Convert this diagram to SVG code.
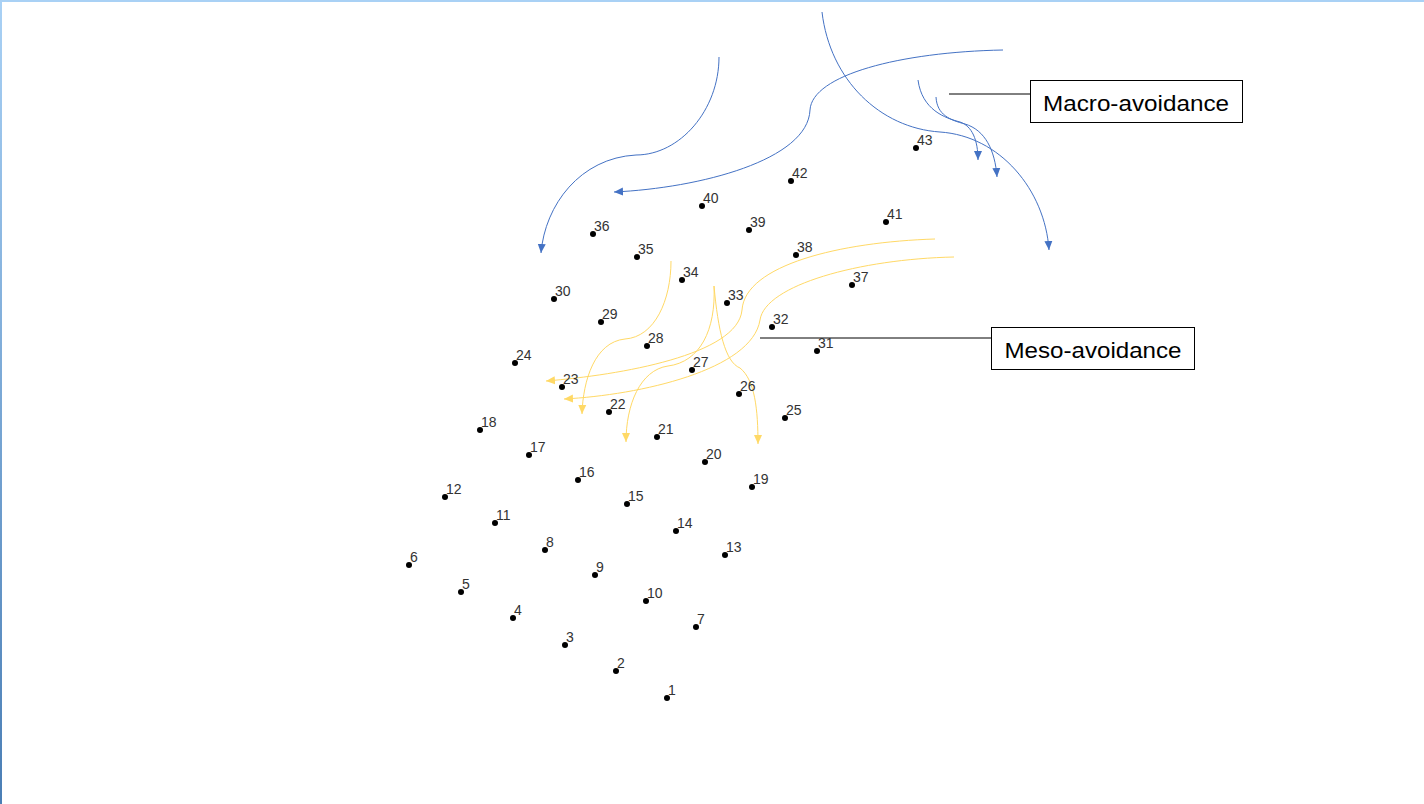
<svg xmlns="http://www.w3.org/2000/svg" width="1424" height="804" viewBox="0 0 1424 804">
<defs>
<linearGradient id="lb" x1="0" y1="0" x2="0" y2="1"><stop offset="0" stop-color="#A9D1F5"/><stop offset="1" stop-color="#4A7EB5"/></linearGradient>
<marker id="ab" markerWidth="10" markerHeight="10" viewBox="0 0 10 10" refX="9" refY="5" orient="auto" markerUnits="userSpaceOnUse"><path d="M0,1 L9,5 L0,9 Z" fill="#4472C4"/></marker>
<marker id="ay" markerWidth="10" markerHeight="10" viewBox="0 0 10 10" refX="9" refY="5" orient="auto" markerUnits="userSpaceOnUse"><path d="M0,1 L9,5 L0,9 Z" fill="#FFD966"/></marker>
<style>
.d{fill:#000}
.l{font-family:"Liberation Sans",Arial,sans-serif;font-size:14px;fill:#333}
.b{fill:none;stroke:#4472C4;stroke-width:1;marker-end:url(#ab)}
.y{fill:none;stroke:#FFD966;stroke-width:1;marker-end:url(#ay)}
.box{fill:#fff;stroke:#000;stroke-width:1}
.bt{font-family:"Liberation Sans",Arial,sans-serif;font-size:22px;fill:#000}
.ln{stroke:#000;stroke-width:1}
</style>
</defs>
<rect width="1424" height="804" fill="#fff"/>
<rect x="0" y="0" width="1424" height="2" fill="#A9D1F5"/>
<rect x="0" y="0" width="2" height="804" fill="url(#lb)"/>
<g id="connectors">
<path class="b" d="M719,57 C719,110 680,155 636,155 C580,158 545,205 541,253"/>
<path class="b" d="M1003,50 C900,52 812,75 810,110 C808,160 700,188 614,192"/>
<path class="b" d="M822,12 C830,80 880,128 940,132 C1000,136 1045,190 1049,250"/>
<path class="b" d="M918,80 C922,110 945,118 960,122 C972,126 978,140 978,160"/>
<path class="b" d="M936,97 C937,115 950,120 965,124 C985,130 995,150 997,177"/>
<path class="y" d="M671,261 C671,300 655,337 625,339 C595,342 583,380 582,414"/>
<path class="y" d="M714,286 C716,330 700,362 668,366 C640,370 626,405 626,442"/>
<path class="y" d="M714,286 C718,330 725,362 740,368 C755,380 758,410 758,444"/>
<path class="y" d="M935,239 C840,242 745,265 742,310 C738,355 620,375 546,381"/>
<path class="y" d="M954,257 C860,259 765,285 760,320 C752,370 640,395 564,399"/>
<line class="ln" x1="949" y1="94" x2="1030" y2="94"/>
<line class="ln" x1="760" y1="338" x2="991" y2="338"/>
</g>
<g id="macro"><rect class="box" x="1030.5" y="80.5" width="212" height="42"/><text class="bt" x="1136" y="111" text-anchor="middle" textLength="186" lengthAdjust="spacingAndGlyphs">Macro-avoidance</text></g>
<g id="meso"><rect class="box" x="991.5" y="327.5" width="203" height="42"/><text class="bt" x="1093" y="358" text-anchor="middle" textLength="177" lengthAdjust="spacingAndGlyphs">Meso-avoidance</text></g>
<g id="n1"><circle class="d" cx="667" cy="698" r="3"/><text class="l" x="668" y="695">1</text></g>
<g id="n2"><circle class="d" cx="616" cy="671" r="3"/><text class="l" x="617" y="668">2</text></g>
<g id="n3"><circle class="d" cx="565" cy="645" r="3"/><text class="l" x="566" y="642">3</text></g>
<g id="n4"><circle class="d" cx="513" cy="618" r="3"/><text class="l" x="514" y="615">4</text></g>
<g id="n5"><circle class="d" cx="461" cy="592" r="3"/><text class="l" x="462" y="589">5</text></g>
<g id="n6"><circle class="d" cx="409" cy="565" r="3"/><text class="l" x="410" y="562">6</text></g>
<g id="n7"><circle class="d" cx="696" cy="627" r="3"/><text class="l" x="697" y="624">7</text></g>
<g id="n8"><circle class="d" cx="545" cy="550" r="3"/><text class="l" x="546" y="547">8</text></g>
<g id="n9"><circle class="d" cx="595" cy="575" r="3"/><text class="l" x="596" y="572">9</text></g>
<g id="n10"><circle class="d" cx="646" cy="601" r="3"/><text class="l" x="647" y="598">10</text></g>
<g id="n11"><circle class="d" cx="495" cy="523" r="3"/><text class="l" x="496" y="520">11</text></g>
<g id="n12"><circle class="d" cx="445" cy="497" r="3"/><text class="l" x="446" y="494">12</text></g>
<g id="n13"><circle class="d" cx="725" cy="555" r="3"/><text class="l" x="726" y="552">13</text></g>
<g id="n14"><circle class="d" cx="676" cy="531" r="3"/><text class="l" x="677" y="528">14</text></g>
<g id="n15"><circle class="d" cx="627" cy="504" r="3"/><text class="l" x="628" y="501">15</text></g>
<g id="n16"><circle class="d" cx="578" cy="480" r="3"/><text class="l" x="579" y="477">16</text></g>
<g id="n17"><circle class="d" cx="529" cy="455" r="3"/><text class="l" x="530" y="452">17</text></g>
<g id="n18"><circle class="d" cx="480" cy="430" r="3"/><text class="l" x="481" y="427">18</text></g>
<g id="n19"><circle class="d" cx="752" cy="487" r="3"/><text class="l" x="753" y="484">19</text></g>
<g id="n20"><circle class="d" cx="705" cy="462" r="3"/><text class="l" x="706" y="459">20</text></g>
<g id="n21"><circle class="d" cx="657" cy="437" r="3"/><text class="l" x="658" y="434">21</text></g>
<g id="n22"><circle class="d" cx="609" cy="412" r="3"/><text class="l" x="610" y="409">22</text></g>
<g id="n23"><circle class="d" cx="562" cy="387" r="3"/><text class="l" x="563" y="384">23</text></g>
<g id="n24"><circle class="d" cx="515" cy="363" r="3"/><text class="l" x="516" y="360">24</text></g>
<g id="n25"><circle class="d" cx="785" cy="418" r="3"/><text class="l" x="786" y="415">25</text></g>
<g id="n26"><circle class="d" cx="739" cy="394" r="3"/><text class="l" x="740" y="391">26</text></g>
<g id="n27"><circle class="d" cx="692" cy="370" r="3"/><text class="l" x="693" y="367">27</text></g>
<g id="n28"><circle class="d" cx="647" cy="346" r="3"/><text class="l" x="648" y="343">28</text></g>
<g id="n29"><circle class="d" cx="601" cy="322" r="3"/><text class="l" x="602" y="319">29</text></g>
<g id="n30"><circle class="d" cx="554" cy="299" r="3"/><text class="l" x="555" y="296">30</text></g>
<g id="n31"><circle class="d" cx="817" cy="351" r="3"/><text class="l" x="818" y="348">31</text></g>
<g id="n32"><circle class="d" cx="772" cy="327" r="3"/><text class="l" x="773" y="324">32</text></g>
<g id="n33"><circle class="d" cx="727" cy="303" r="3"/><text class="l" x="728" y="300">33</text></g>
<g id="n34"><circle class="d" cx="682" cy="280" r="3"/><text class="l" x="683" y="277">34</text></g>
<g id="n35"><circle class="d" cx="637" cy="257" r="3"/><text class="l" x="638" y="254">35</text></g>
<g id="n36"><circle class="d" cx="593" cy="234" r="3"/><text class="l" x="594" y="231">36</text></g>
<g id="n37"><circle class="d" cx="852" cy="285" r="3"/><text class="l" x="853" y="282">37</text></g>
<g id="n38"><circle class="d" cx="796" cy="255" r="3"/><text class="l" x="797" y="252">38</text></g>
<g id="n39"><circle class="d" cx="749" cy="230" r="3"/><text class="l" x="750" y="227">39</text></g>
<g id="n40"><circle class="d" cx="702" cy="206" r="3"/><text class="l" x="703" y="203">40</text></g>
<g id="n41"><circle class="d" cx="886" cy="222" r="3"/><text class="l" x="887" y="219">41</text></g>
<g id="n42"><circle class="d" cx="791" cy="181" r="3"/><text class="l" x="792" y="178">42</text></g>
<g id="n43"><circle class="d" cx="916" cy="148" r="3"/><text class="l" x="917" y="145">43</text></g>
</svg>
